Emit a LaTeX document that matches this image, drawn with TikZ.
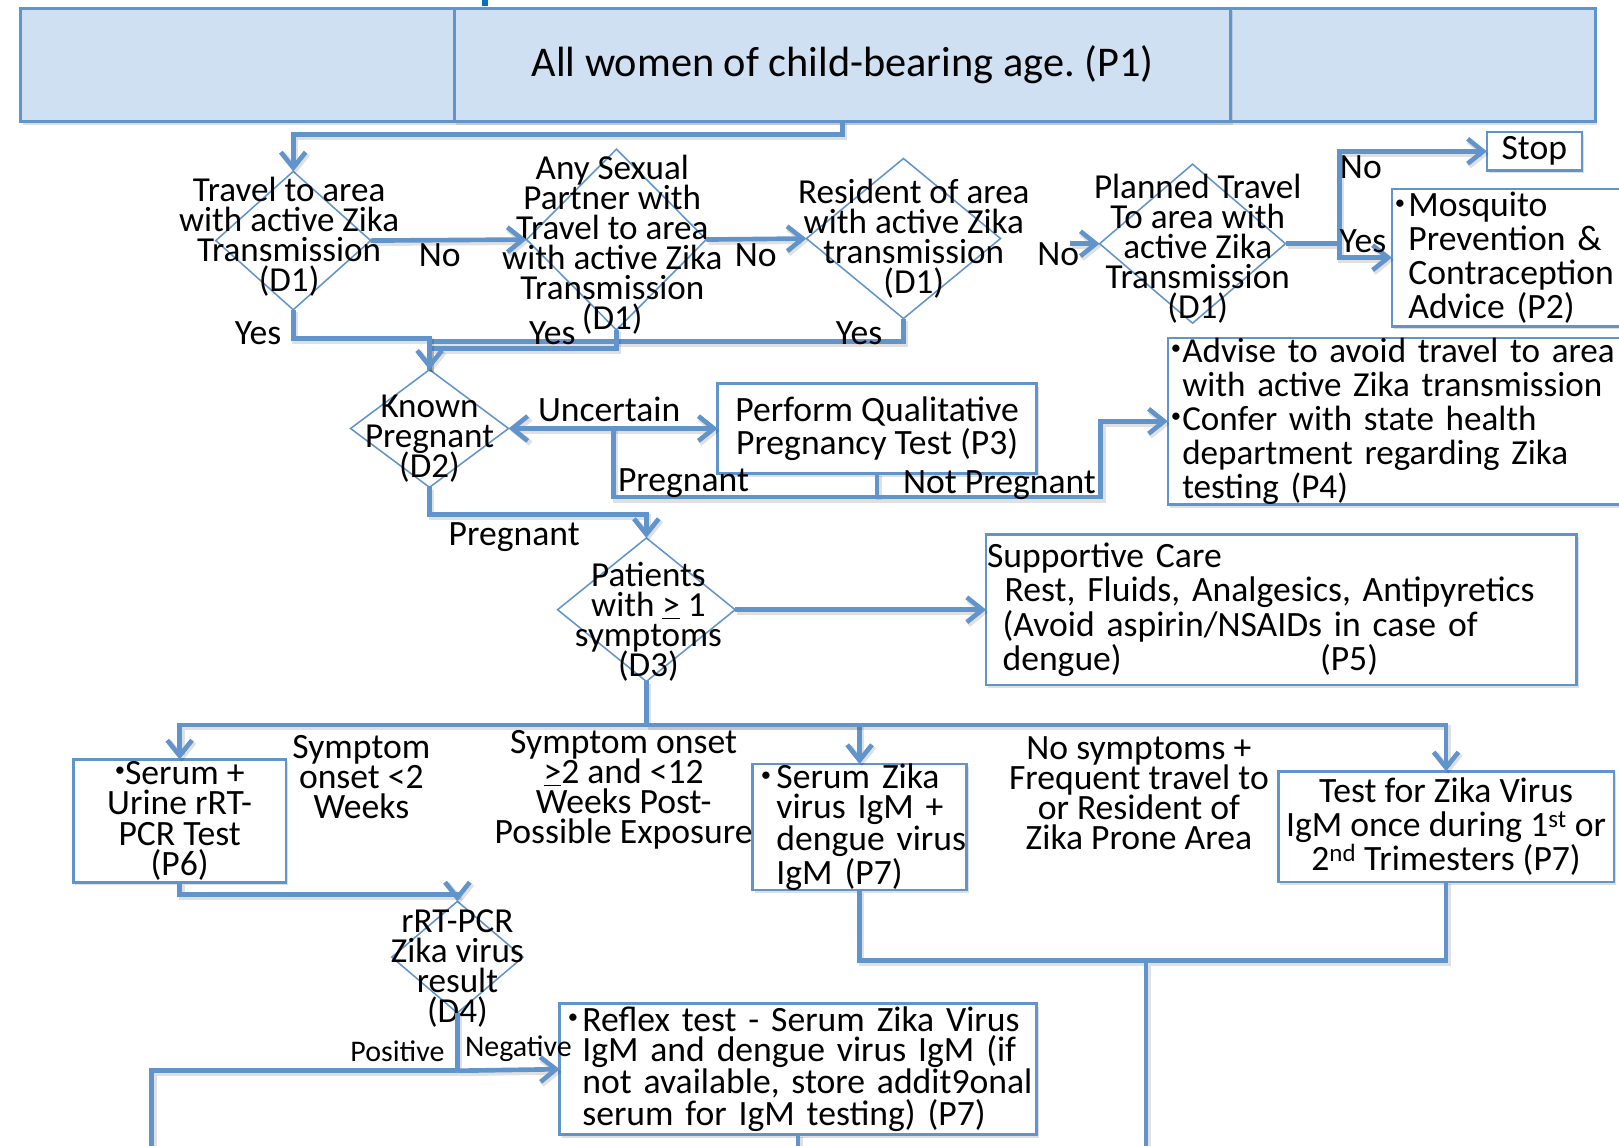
\documentclass[tikz,border=0pt]{standalone}
\usepackage{fontspec}
\setmainfont{Carlito}
\usetikzlibrary{shapes.geometric,arrows.meta,shadows}

\definecolor{zikaline}{RGB}{98,148,204}
\definecolor{zikafill}{RGB}{207,224,242}
\definecolor{titleblue}{RGB}{0,112,192}

\frenchspacing
\setlength{\lineskiplimit}{-100pt}
\newcommand{\bul}{\raisebox{0.45ex}{\fontsize{20}{20}\selectfont •}}
\newcommand{\bline}[2][13pt]{\makebox[0pt][l]{\makebox[#1][l]{\bul}#2}}
\newcommand{\iline}[2][13pt]{\makebox[0pt][l]{\hspace*{#1}#2}}

\tikzset{
  lineshadow/.style={preaction={draw=black, draw opacity=0.12, line width=5.5pt,
    transform canvas={xshift=2pt, yshift=-2.5pt}}},
  flow/.style={draw=zikaline, line width=4.5pt, lineshadow, -{Straight Barb[length=15pt,width=24pt]}},
  flowboth/.style={draw=zikaline, line width=4.5pt, lineshadow,
    {Straight Barb[length=15pt,width=24pt]}-{Straight Barb[length=15pt,width=24pt]}},
  link/.style={draw=zikaline, line width=4.5pt, lineshadow},
  dia/.style={diamond, draw=zikaline, line width=1.5pt, inner sep=0pt, outer sep=0pt},
  dtext/.style={align=center, inner sep=0pt, font=\fontsize{34}{29}\selectfont},
  lbl/.style={inner sep=0pt, align=center, font=\fontsize{34.5}{29}\selectfont},
  smalllbl/.style={inner sep=0pt, font=\fontsize{29}{29}\selectfont},
  pbox/.style={draw=zikaline, line width=2.5pt, fill=white, outer sep=0pt,
    drop shadow={shadow xshift=2pt, shadow yshift=-3pt, opacity=0.25}},
  ctext/.style={align=center, inner sep=2pt, font=\fontsize{34.5}{33}\selectfont},
  ltext/.style={align=left, inner ysep=0pt, font=\fontsize{34.5}{33}\selectfont},
}

\begin{document}
\begin{tikzpicture}[x=1pt, y=-1pt]
  \useasboundingbox (0,0) rectangle (1568,1109);
  \fill[titleblue] (467,0) rectangle (473,6);                                   % cut-off title

  % top
  \node[pbox, fill=zikafill, line width=3pt, minimum width=1525pt, minimum height=110pt] (p1bg) at (782.5,63) {};
  \node[pbox, fill=zikafill, line width=3pt, minimum width=752pt, minimum height=110pt,
        font=\fontsize{41}{45}\selectfont] (p1) at (816,63) {All women of child-bearing age. (P1)};

  % D1 row
  \node[dia, minimum width=150pt, minimum height=134pt] (d1a) at (284,233) {};
  \node[dtext] (d1a-t) at (280,229) {Travel to area\\with active Zika\\Transmission\\(D1)};
  \node[dia, minimum width=174pt, minimum height=175pt] (d1b) at (597,232) {};
  \node[dtext] (d1b-t) at (593,237) {Any Sexual\\Partner with\\Travel to area\\with active Zika\\Transmission\\(D1)};
  \node[dia, minimum width=188pt, minimum height=155pt] (d1c) at (875,231) {};
  \node[dtext] (d1c-t) at (885,231) {Resident of area\\with active Zika\\transmission\\(D1)};
  \node[dia, minimum width=180pt, minimum height=154pt] (d1d) at (1155,236) {};
  \node[dtext] (d1d-t) at (1160,241) {Planned Travel\\To area with\\active Zika\\Transmission\\(D1)};

  \node[pbox, minimum width=92pt, minimum height=37pt, ctext, inner sep=0pt] (stop) at (1486,146.5) {Stop};   %Stop
  \node[pbox, ltext, minimum width=260pt, minimum height=133pt, text width=254pt, inner xsep=3pt,
        font=\fontsize{34.5}{32.7}\selectfont] (p2) at (1478,249.5)
        {\bline{Mosquito}\\\iline{Prevention \&}\\\iline{Contraception}\\\iline{Advice (P2)}};                %P2

  % D2 row
  \node[dia, minimum width=153pt, minimum height=114pt] (d2) at (416,415) {};
  \node[dtext] (d2-t) at (416,425) {Known\\Pregnant\\(D2)};
  \node[pbox, ctext, minimum width=309pt, minimum height=87pt, font=\fontsize{34.5}{32}\selectfont]
        (p3) at (849.5,415) {Perform Qualitative\\Pregnancy Test (P3)};                                  %P3
  \node[pbox, ltext, minimum width=489pt, minimum height=156pt, text width=483pt, inner xsep=3pt,
        font=\fontsize{34}{33}\selectfont] (p4) at (1375.5,408)
        {\bline[11pt]{Advise to avoid travel to area}\\\iline[11pt]{with active Zika transmission}\\
        \bline[11pt]{Confer with state health}\\\iline[11pt]{department regarding Zika}\\\iline[11pt]{testing (P4)}}; %P4

  % D3 row
  \node[dia, minimum width=172pt, minimum height=139pt] (d3) at (626,590.5) {};
  \node[dtext] (d3-t) at (628,602) {Patients\\with \underline{>} 1\\symptoms\\(D3)};
  \node[pbox, ltext, minimum width=572pt, minimum height=146pt, text width=570pt, inner xsep=1pt]
        (p5) at (1241,590.5) {\iline[0pt]{Supportive Care}\\\iline[17pt]{Rest, Fluids, Analgesics, Antipyretics}\\
        \iline[15pt]{(Avoid aspirin/NSAIDs in case of}\\\iline[15pt]{dengue)\hspace{192pt}(P5)}};        %P5

  % tests
  \node[pbox, ctext, minimum width=206pt, minimum height=112pt, font=\fontsize{34.5}{29.3}\selectfont]
        (p6) at (174,795) {\bul Serum +\\Urine rRT-\\PCR Test\\(P6)};                                     %P6
  \node[pbox, ltext, minimum width=207pt, minimum height=112pt, text width=191pt, inner xsep=8pt,
        font=\fontsize{34.5}{29.3}\selectfont] (p7a) at (832.5,801)
        {\bline[15pt]{Serum Zika}\\\iline[15pt]{virus IgM +}\\\iline[15pt]{dengue virus}\\\iline[15pt]{IgM (P7)}}; %P7
  \node[pbox, ctext, minimum width=325pt, minimum height=107pt] (p7b) at (1400.5,800.5)
        {Test for Zika Virus\\IgM once during 1\textsuperscript{st} or\\2\textsuperscript{nd} Trimesters (P7)}; %P7
  \node[lbl] (l-lt2) at (350,753) {Symptom\\onset <2\\Weeks};
  \node[lbl] (l-2to12) at (604,765) {Symptom onset\\\underline{>}2 and <12\\Weeks Post-\\Possible Exposure};
  \node[lbl] (l-nosym) at (1103,768) {No symptoms +\\Frequent travel to\\or Resident of\\Zika Prone Area};

  \node[dia, minimum width=127pt, minimum height=108pt] (d4) at (443,927) {};
  \node[dtext] (d4-t) at (443,938) {rRT-PCR\\Zika virus\\result\\(D4)};
  \node[pbox, ltext, minimum width=462pt, minimum height=127pt, text width=446pt, inner xsep=8pt,
        font=\fontsize{34.5}{29.3}\selectfont] (p7c) at (773,1035.5)
        {\bline[14pt]{Reflex test - Serum Zika Virus}\\\iline[14pt]{IgM and dengue virus IgM (if}\\
        \iline[14pt]{not available, store addit9onal}\\\iline[14pt]{serum for IgM testing) (P7)}};       %P7

  % connectors
  \draw[flow] (p1.south) -- ++(0,12) -| (d1a.north);                            %
  \draw[flow] (d1a.east) -- (d1b.west);                                         %No
  \draw[flow] (d1b.east) -- (d1c.west);                                         %No
  \coordinate (no3) at (1036,236);
  \draw[flow] (no3) -- (d1d.west);                                              %No
  \coordinate (split) at (1297,236);
  \draw[link] (d1d.east) -- (split);                                            %
  \draw[flow] (split) |- (stop.west);                                           %No
  \draw[flow] (split) |- (p2.west);                                             %Yes
  \draw[link] (d1c.south) -- ++(0,22) -| (d2.north);                            %Yes
  \draw[link] (d1b.south) -- ++(0,18) -| (d2.north);                            %Yes
  \draw[flow] (d1a.south) -- ++(0,28) -| (d2.north);                            %Yes

  \draw[flowboth] (d2.east) -- (p3.west);                                       %Uncertain
  \coordinate (unc) at (594,415);
  \draw[link] (p3.south) -- ++(0,23) coordinate (res);                          %
  \draw[link] (res) -| (unc);                                                   %Pregnant
  \coordinate (np) at (1066,481.5);
  \draw[flow] (res) -- (np) |- (p4.west);                                       %Not Pregnant
  \draw[flow] (d2.south) -- ++(0,26) -| (d3.north);                             %Pregnant
  \draw[flow] (d3.east) -- (p5.west);                                           %

  \draw[link] (d3.south) -- ++(0,42) coordinate (fan);                          %
  \draw[flow] (fan) -| (p6.north);                                              %
  \draw[flow] (fan) -| (p7a.north);                                             %
  \draw[flow] (fan) -| (p7b.north);                                             %
  \coordinate (mrg) at (1110,930);
  \coordinate (out3) at (1110,1120);
  \draw[link] (p7a.south) |- (mrg);                                             %
  \draw[link] (p7b.south) |- (mrg) -- (out3);                                   %
  \draw[flow] (p6.south) -- ++(0,12) -| (d4.north);                             %
  \draw[link] (d4.south) -- ++(0,56) coordinate (pn);                           %
  \coordinate (out1) at (147,1120);
  \draw[link] (pn) -| (out1);                                                   %Positive
  \draw[flow] (pn) -- (p7c.west);                                               %Negative
  \coordinate (out2) at (773,1120);
  \draw[link] (p7c.south) -- (out2);                                            %

  % labels
  \node[lbl] (l-no1) at (426,247) {No};
  \node[lbl] (l-no2) at (732,247) {No};
  \node[lbl] (l-no3) at (1025,246) {No};
  \node[lbl] (l-no4) at (1318,162) {No};
  \node[lbl] (l-yes4) at (1320,234) {Yes};
  \node[lbl] (l-yes1) at (250,323) {Yes};
  \node[lbl] (l-yes2) at (535,323) {Yes};
  \node[lbl] (l-yes3) at (832,323) {Yes};
  \node[lbl] (l-unc) at (590,396) {Uncertain};
  \node[lbl] (l-preg1) at (662,468) {Pregnant};
  \node[lbl] (l-notpreg) at (968,470) {Not Pregnant};
  \node[lbl] (l-preg2) at (498,520) {Pregnant};
  \node[smalllbl] (l-pos) at (385,1018) {Positive};
  \node[smalllbl] (l-neg) at (502,1016) {Negative};
\end{tikzpicture}
\end{document}
